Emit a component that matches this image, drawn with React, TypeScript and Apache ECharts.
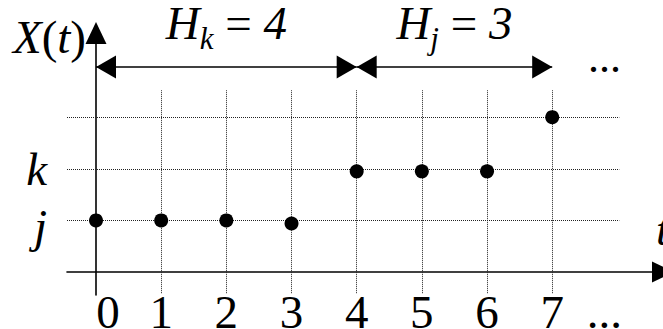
import React, { useEffect, useRef } from 'react';
import * as echarts from 'echarts';

// ---- data ----
const timeSteps = [0, 1, 2, 3, 4, 5, 6, 7];
const stateValues = [1, 1, 1, 0.94, 1.95, 1.95, 1.95, 3];

const xTickValues = [0, 1, 2, 3, 4, 5, 6, 7, 7.8];
const xTickLabels = ['0', '1', '2', '3', '4', '5', '6', '7', '...'];
const yTickValues = [1, 2];
const yTickLabels = ['j', 'k'];

const gridCols = [1, 2, 3, 4, 5, 6, 7];
const gridRows = [1, 2, 3];

const spanStarts = [0, 4];
const spanEnds = [4, 7];
const spanSubs = ['k', 'j'];
const spanLengths = ['4', '3'];

// ---- layout constants ----
const X_MIN = -0.445;
const X_MAX = 8.7;
const Y_MIN = -0.445;
const Y_MAX = 4.63;
const ARROW_Y = 3.97;
const COL_BOTTOM = -0.41;
const COL_TOP = 3.52;
const ROW_RIGHT = 8.03;

const FONT = '"Liberation Serif", "Times New Roman", serif';
const FS = 47;

export default function App() {
  const ref = useRef<HTMLDivElement>(null);

  useEffect(() => {
    document.body.style.margin = '0';
    if (!ref.current) return;
    const chart = echarts.init(ref.current, null, { renderer: 'svg' });

    const axisLineStyle = { color: '#000', width: 1.6 };
    const txt = { fontFamily: FONT, fontSize: FS, color: '#000' };
    const arrowEnd = { symbol: 'triangle', symbolSize: [23, 20], symbolOffset: [0, 10] };

    const option: any = {
      animation: false,
      grid: {
        left: 67,
        right: 0,
        top: 33,
        bottom: 34,
        containLabel: false,
        outerBoundsMode: 'none',
      },
      xAxis: {
        type: 'value',
        min: X_MIN,
        max: X_MAX,
        name: 't',
        nameLocation: 'end',
        nameGap: -7,
        nameTextStyle: {
          ...txt,
          fontStyle: 'italic',
          align: 'left',
          verticalAlign: 'bottom',
          padding: [0, 0, 20, 0],
        },
        axisLine: {
          show: true,
          onZero: true,
          symbol: ['none', 'triangle'],
          symbolSize: [21, 22],
          lineStyle: axisLineStyle,
        },
        axisTick: { show: false },
        splitLine: { show: false },
        axisLabel: {
          customValues: xTickValues,
          margin: -7,
          ...txt,
          formatter: (v: number) => {
            const i = xTickValues.indexOf(v);
            const s = i >= 0 ? xTickLabels[i] : '';
            return v === 0 ? '{z|' + s + '}' : s;
          },
          rich: { z: { ...txt, padding: [0, 0, 0, 24] } },
        },
      },
      yAxis: {
        type: 'value',
        min: Y_MIN,
        max: Y_MAX,
        name: '{i|X}{r|(}{i|t}{r|)}',
        nameLocation: 'end',
        nameGap: -4,
        nameTextStyle: {
          ...txt,
          align: 'right',
          verticalAlign: 'middle',
          padding: [0, 10, 0, 0],
          rich: {
            i: { ...txt, fontStyle: 'italic' },
            r: { ...txt },
          },
        },
        axisLine: {
          show: true,
          onZero: true,
          symbol: ['none', 'triangle'],
          symbolSize: [21, 22],
          lineStyle: axisLineStyle,
        },
        axisTick: { show: false },
        splitLine: { show: false },
        axisLabel: {
          customValues: yTickValues,
          margin: 20,
          ...txt,
          fontStyle: 'italic',
          formatter: (v: number) => {
            const i = yTickValues.indexOf(v);
            const s = i >= 0 ? yTickLabels[i] : '';
            return s === 'j' ? '{j|' + s + '}' : '{v|' + s + '}';
          },
          rich: {
            v: { ...txt, fontStyle: 'italic' },
            j: { ...txt, fontStyle: 'italic', padding: [12, 0, 0, 0] },
          },
        },
      },
      graphic: [
        {
          type: 'text',
          x: 588,
          y: 57,
          style: {
            text: '...',
            fontFamily: FONT,
            fontSize: 44,
            fill: '#000',
            verticalAlign: 'middle',
          },
        },
      ],
      series: [
        {
          type: 'line',
          data: [],
          silent: true,
          markLine: {
            silent: true,
            animation: false,
            symbol: ['none', 'none'],
            label: { show: false },
            lineStyle: { color: '#222', width: 1, type: [1, 1] },
            emphasis: { disabled: true },
            data: [
              ...gridCols.map((c) => [{ coord: [c, COL_BOTTOM] }, { coord: [c, COL_TOP] }]),
              ...gridRows.map((r) => [{ coord: [X_MIN, r] }, { coord: [ROW_RIGHT, r] }]),
            ],
          },
        },
        {
          type: 'line',
          data: [],
          silent: true,
          markLine: {
            silent: true,
            animation: false,
            lineStyle: { color: '#000', width: 1.6, type: 'solid' },
            emphasis: { disabled: true },
            label: {
              show: true,
              position: 'middle',
              color: '#000',
              formatter: (p: any) =>
                '{h|H}{s|' +
                spanSubs[p.dataIndex] +
                '}{e| = }{n|' +
                spanLengths[p.dataIndex] +
                '}\n{g| }',
              rich: {
                h: { ...txt, fontStyle: 'italic', lineHeight: 50 },
                s: { ...txt, fontSize: 31, fontStyle: 'italic', lineHeight: 32, padding: [30, 0, 0, 0] },
                e: { ...txt, lineHeight: 50 },
                n: { ...txt, fontStyle: 'italic', lineHeight: 50 },
                g: { fontSize: 2, lineHeight: 14, color: 'rgba(0,0,0,0)' },
              },
            },
            data: spanStarts.map((s, i) => [
              { coord: [s, ARROW_Y], ...arrowEnd },
              { coord: [spanEnds[i], ARROW_Y], ...arrowEnd },
            ]),
          },
        },
        {
          type: 'scatter',
          z: 10,
          symbol: 'circle',
          symbolSize: 14,
          itemStyle: { color: '#000', opacity: 1 },
          silent: true,
          data: timeSteps.map((t, i) => [t, stateValues[i]]),
        },
      ],
    };

    chart.setOption(option);
    return () => chart.dispose();
  }, []);

  return (
    <div
      ref={ref}
      style={{ width: 663, height: 329, position: 'absolute', left: 0, top: 0, background: '#fff' }}
    />
  );
}
